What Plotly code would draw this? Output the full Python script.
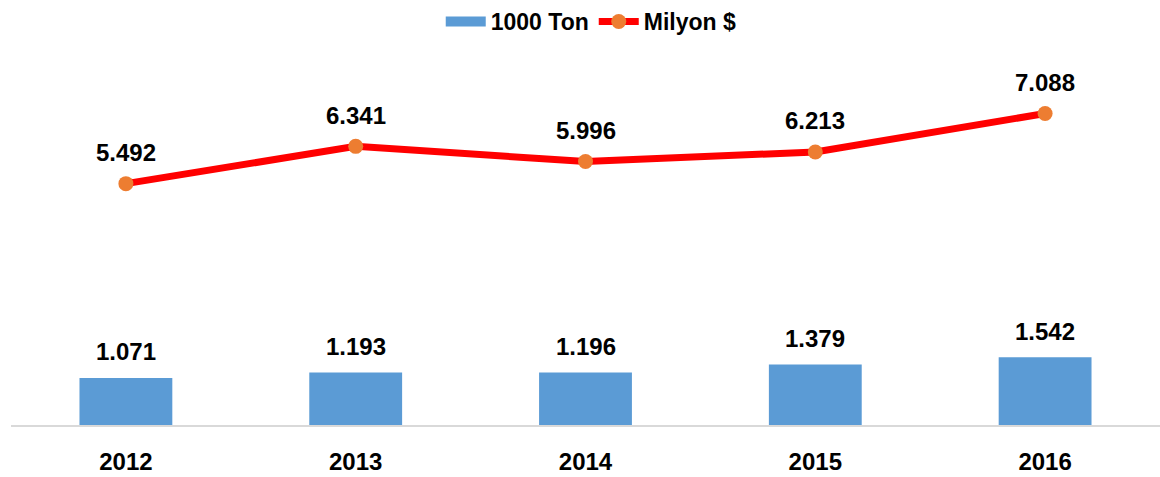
import plotly.graph_objects as go

years = ["2012", "2013", "2014", "2015", "2016"]
tons = [1.071, 1.193, 1.196, 1.379, 1.542]
usd = [5.492, 6.341, 5.996, 6.213, 7.088]
ton_labels = ["1.071", "1.193", "1.196", "1.379", "1.542"]
usd_labels = ["5.492", "6.341", "5.996", "6.213", "7.088"]

FONT = "Liberation Sans"
FS = 24
BLUE = "#5B9BD5"
fig = go.Figure()
fig.add_trace(go.Bar(x=years, y=tons, name="1000 Ton", marker_color=BLUE,
                     marker_line_width=0, showlegend=False))
# legend entry for the bars (wide rectangle like the original)
fig.add_trace(go.Scatter(x=[None], y=[None], name="<b>1000 Ton</b>", mode="lines",
                         line=dict(color=BLUE, width=14), hoverinfo="skip"))
fig.add_trace(go.Scatter(x=years, y=usd, name="<b>Milyon $</b>", mode="lines+markers",
                         line=dict(color="#FF0000", width=7),
                         marker=dict(color="#ED7D31", size=15)))

for i, (y, t) in enumerate(zip(tons, ton_labels)):
    fig.add_annotation(x=i, y=y, text="<b>%s</b>" % t, showarrow=False,
                       yshift=26, yanchor="middle",
                       font=dict(family=FONT, size=FS, color="#000000"))
for i, (y, t) in enumerate(zip(usd, usd_labels)):
    fig.add_annotation(x=i, y=y, text="<b>%s</b>" % t, showarrow=False,
                       yshift=31, yanchor="middle",
                       font=dict(family=FONT, size=FS, color="#000000"))

fig.update_layout(
    width=1160, height=477,
    margin=dict(l=11, r=0, t=50, b=52),
    paper_bgcolor="white", plot_bgcolor="white",
    bargap=0.596,
    showlegend=True,
    legend=dict(orientation="h", x=0.505, xanchor="center", y=1.085, yanchor="middle",
                font=dict(family=FONT, size=FS - 1, color="#000000"),
                traceorder="normal", itemwidth=40),
    font=dict(family=FONT),
)
fig.update_xaxes(type="category", range=[-0.5, len(years) - 0.5],
                 showline=True, linecolor="#D9D9D9", linewidth=2,
                 showgrid=False, ticks="outside", ticklen=14,
                 tickcolor="rgba(0,0,0,0)",
                 tickfont=dict(family=FONT, size=FS, color="#000000"),
                 tickprefix="<b>", ticksuffix="</b>")
fig.update_yaxes(range=[0, 375 / 44.3], visible=False, showgrid=False,
                 zeroline=False)

fig.write_html("out.html", config={"displayModeBar": False},
               post_script="document.body.style.margin='0';")
